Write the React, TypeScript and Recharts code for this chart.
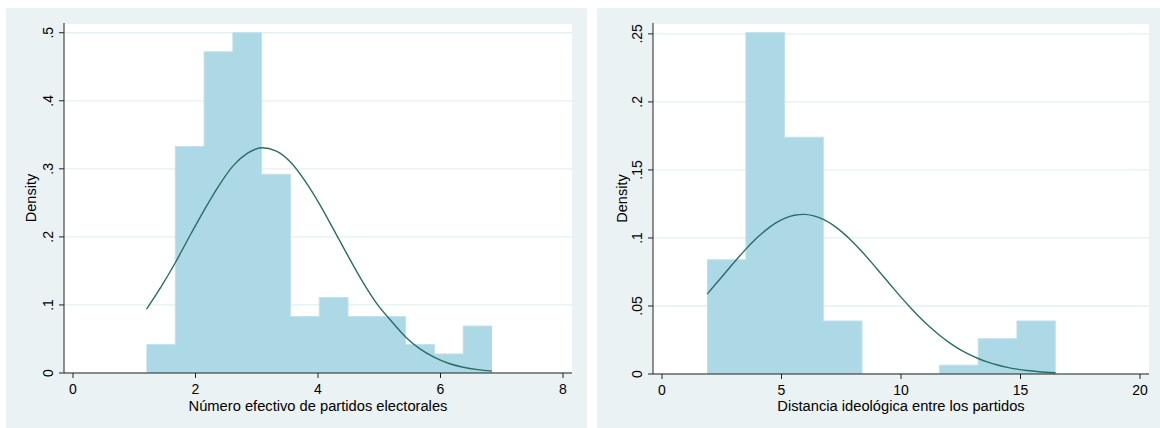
import React from 'react';
import { ComposedChart, Area, Line, XAxis, YAxis, CartesianGrid, Label } from 'recharts';

const PANEL_BG = '#eaf2f3';
const BAR_FILL = '#add8e6';
const BAR_EDGE = '#c2e1eb';
const CURVE = '#2a6e64';
const AXIS = '#222';
const GRID = '#e6eff1';
const FONT = '"Liberation Sans", Arial, Helvetica, sans-serif';

// Número efectivo de partidos electorales
const binEdges1 = [1.2, 1.67, 2.14, 2.61, 3.08, 3.55, 4.02, 4.49, 4.96, 5.43, 5.9, 6.37, 6.84];
const density1 = [0.042, 0.333, 0.472, 0.5, 0.292, 0.083, 0.111, 0.083, 0.083, 0.042, 0.028, 0.069];
const curveX1 = [1.2, 1.44, 1.67, 1.91, 2.14, 2.38, 2.61, 2.85, 3.08, 3.32, 3.55, 3.79, 4.02, 4.26, 4.49, 4.73, 4.96, 5.2, 5.43, 5.67, 5.9, 6.14, 6.37, 6.61, 6.84];
const curveY1 = [0.094, 0.127, 0.162, 0.202, 0.239, 0.275, 0.304, 0.323, 0.331, 0.326, 0.31, 0.282, 0.249, 0.21, 0.172, 0.134, 0.102, 0.076, 0.053, 0.035, 0.023, 0.014, 0.0085, 0.0049, 0.0028];
const xTicks1 = [0, 2, 4, 6, 8];
const yTicks1 = [0, 0.1, 0.2, 0.3, 0.4, 0.5];

// Distancia ideológica entre los partidos
const binEdges2 = [1.89, 3.51, 5.13, 6.75, 8.37, 9.99, 11.61, 13.23, 14.85, 16.47];
const density2 = [0.084, 0.251, 0.174, 0.039, 0, 0, 0.0065, 0.026, 0.039];
const curveX2 = [
  1.89, 2.3, 2.7, 3.11, 3.51, 3.92, 4.32, 4.73, 5.13, 5.54, 5.94, 6.35, 6.75, 7.16, 7.56, 7.97, 8.37, 8.78, 9.18,
  9.59, 9.99, 10.4, 10.8, 11.21, 11.61, 12.02, 12.42, 12.83, 13.23, 13.64, 14.04, 14.45, 14.85, 15.26, 15.66, 16.06, 16.47,
];
const curveY2 = [
  0.0587, 0.0672, 0.0755, 0.084, 0.0918, 0.0992, 0.1054, 0.1107, 0.1144, 0.1167, 0.1173, 0.1162, 0.1136, 0.1094, 0.1039,
  0.0973, 0.0899, 0.0817, 0.0734, 0.0649, 0.0567, 0.0487, 0.0413, 0.0345, 0.0285, 0.0231, 0.0185, 0.0146, 0.0114, 0.0087,
  0.0066, 0.0049, 0.0036, 0.0026, 0.0019, 0.0013, 0.0009,
];
const xTicks2 = [0, 5, 10, 15, 20];
const yTicks2 = [0, 0.05, 0.1, 0.15, 0.2, 0.25];

// step rows: one per bin edge, the last edge repeats the last bin
const toSteps = (edges: number[], dens: number[]) =>
  edges.map((x, i) => ({ x, d: dens[Math.min(i, dens.length - 1)] }));

const toCurve = (xs: number[], ys: number[]) => xs.map((x, i) => ({ x, y: ys[i] }));

// Stata-style density labels: 0, .1, .25 ...
const fmtDensity = (v: number) => (v === 0 ? '0' : String(v).replace(/^0\./, '.'));

const YTick = ({ x, y, payload }: any) => {
  const bx = x - 4;
  return (
    <text
      x={bx}
      y={y}
      transform={`rotate(-90 ${bx} ${y})`}
      textAnchor="middle"
      fontSize={14}
      fill="#000"
    >
      {fmtDensity(payload.value)}
    </text>
  );
};

const DensityTitle = ({ viewBox }: any) => {
  const cx = viewBox.x + 30;
  const cy = viewBox.y + viewBox.height / 2;
  return (
    <text x={cx} y={cy} transform={`rotate(-90 ${cx} ${cy})`} textAnchor="middle" fontSize={14.5} fill="#000">
      Density
    </text>
  );
};

interface PanelProps {
  left: number;
  width: number;
  yAxisWidth: number;
  xAxisHeight: number;
  rightMargin: number;
  edges: number[];
  dens: number[];
  cx: number[];
  cy: number[];
  xTicks: number[];
  yTicks: number[];
  yMax: number;
  title: string;
}

const Panel: React.FC<PanelProps> = (p) => {
  const steps = toSteps(p.edges, p.dens);
  const curve = toCurve(p.cx, p.cy);
  const xMin = p.xTicks[0];
  const xMax = p.xTicks[p.xTicks.length - 1];
  return (
    <div style={{ position: 'absolute', left: p.left, top: 8, width: p.width, height: 420, background: PANEL_BG }}>
      <ComposedChart
        width={p.width}
        height={420}
        margin={{ top: 15, right: p.rightMargin, bottom: 0, left: 0 }}
        style={{ fontFamily: FONT }}
      >
        <CartesianGrid vertical={false} stroke={GRID} strokeWidth={1.3} fill="#fff" fillOpacity={1} />
        <XAxis
          dataKey="x"
          type="number"
          domain={[xMin, xMax]}
          ticks={p.xTicks}
          padding={{ left: 9, right: 9 }}
          height={p.xAxisHeight}
          tickSize={5}
          tickMargin={6}
          axisLine={{ stroke: AXIS }}
          tickLine={{ stroke: AXIS }}
          tick={{ fill: '#000', fontSize: 14 }}
          label={{ value: p.title, position: 'insideBottom', offset: 17, fill: '#000', fontSize: 14.7 }}
          allowDataOverflow
        />
        <YAxis
          type="number"
          domain={[0, p.yMax]}
          ticks={p.yTicks}
          width={p.yAxisWidth}
          tickSize={5}
          tickMargin={2}
          axisLine={{ stroke: AXIS }}
          tickLine={{ stroke: AXIS }}
          tick={<YTick />}
          allowDataOverflow
        >
          <Label content={<DensityTitle />} />
        </YAxis>
        <Area
          data={steps}
          dataKey="d"
          type="stepAfter"
          fill={BAR_FILL}
          fillOpacity={1}
          stroke={BAR_EDGE}
          strokeWidth={1}
          isAnimationActive={false}
        />
        <Line
          data={curve}
          dataKey="y"
          type="monotone"
          stroke={CURVE}
          strokeWidth={1.4}
          dot={false}
          activeDot={false}
          isAnimationActive={false}
        />
      </ComposedChart>
    </div>
  );
}

export default function App() {
  return (
    <div style={{ position: 'absolute', left: 0, top: 0, width: 1160, height: 428, background: '#fff' }}>
      <Panel
        left={6}
        width={581}
        yAxisWidth={58}
        xAxisHeight={55}
        rightMargin={15}
        edges={binEdges1}
        dens={density1}
        cx={curveX1}
        cy={curveY1}
        xTicks={xTicks1}
        yTicks={yTicks1}
        yMax={0.5143}
        title="Número efectivo de partidos electorales"
      />
      <Panel
        left={597}
        width={563}
        yAxisWidth={56}
        xAxisHeight={54}
        rightMargin={11}
        edges={binEdges2}
        dens={density2}
        cx={curveX2}
        cy={curveY2}
        xTicks={xTicks2}
        yTicks={yTicks2}
        yMax={0.258}
        title="Distancia ideológica entre los partidos"
      />
    </div>
  );
}
